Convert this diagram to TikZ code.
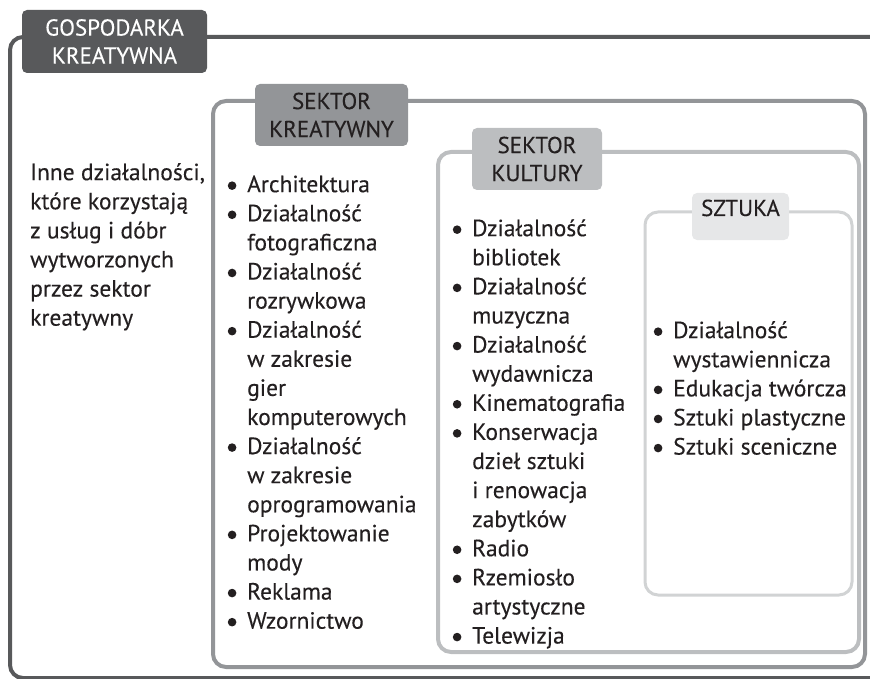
\documentclass[tikz,border=0pt]{standalone}
\usepackage{fontspec}
\setmainfont{PT Sans}[FakeBold=0.25]
\definecolor{ink}{HTML}{231F20}
\definecolor{darkgr}{HTML}{58595B}
\definecolor{midgr}{HTML}{939598}
\definecolor{lightgr}{HTML}{BCBEC0}
\definecolor{palegr}{HTML}{D1D3D4}
\definecolor{palefill}{HTML}{E6E7E8}
% bullet item and continuation line
\newcommand{\itm}[1]{\makebox[19pt][l]{\hspace*{-0.4pt}\raisebox{2.2pt}{\tikz\fill[ink] (0,0) circle (4.3pt);}}#1}
\newcommand{\cnt}[1]{\hspace*{19pt}#1}
\begin{document}
\begin{tikzpicture}[x=1pt,y=-1pt,
  frame/.style={rounded corners=13pt, line width=4pt},
  tag/.style={rounded corners=5pt, inner sep=0pt, align=center, text=ink,
    font=\fontsize{23}{28}\selectfont},
  list/.style={anchor=north west, inner sep=0pt, align=left, text=ink,
    font=\fontsize{23.5}{29.1}\selectfont}]
\useasboundingbox (0,0) rectangle (870,679);
\begin{scope}
\clip (0,0) rectangle (870,679);
% nested sector frames
\draw[frame, darkgr] (10,37) rectangle (890,678);
\draw[frame, midgr] (213,101) rectangle (865,667);
\draw[frame, lightgr] (438,152) rectangle (859,652);
\draw[frame, palegr, line width=3pt] (645,212) rectangle (852,595);
\end{scope}
% frame titles
\node[tag, fill=darkgr, text=white, minimum width=185pt, minimum height=63pt] (gk) at (114.5,41.5) {GOSPODARKA\\KREATYWNA};
\node[tag, fill=midgr, minimum width=153pt, minimum height=62pt] (sk) at (331.5,115) {SEKTOR\\KREATYWNY};
\node[tag, fill=lightgr, minimum width=130pt, minimum height=62pt] (sku) at (537,159) {SEKTOR\\KULTURY};
\node[tag, fill=palefill, minimum width=97pt, text height=23pt, text depth=24pt] (szt) at (740.5,216.5) {SZTUKA};
% lists (first baseline = node top + 20.4)
\node[list] (inne) at (30,159.6) {\strut Inne działalności,\\które korzystają\\z usług i dóbr\\wytworzonych\\przez sektor\\kreatywny};
\node[list] (lsk) at (228,171.6) {\strut\itm{Architektura}\\\itm{Działalność}\\\cnt{fotograficzna}\\\itm{Działalność}\\\cnt{rozrywkowa}\\\itm{Działalność}\\\cnt{w zakresie}\\\cnt{gier}\\\cnt{komputerowych}\\\itm{Działalność}\\\cnt{w zakresie}\\\cnt{oprogramowania}\\\itm{Projektowanie}\\\cnt{mody}\\\itm{Reklama}\\\itm{Wzornictwo}};
\node[list] (lku) at (453,215.6) {\strut\itm{Działalność}\\\cnt{bibliotek}\\\itm{Działalność}\\\cnt{muzyczna}\\\itm{Działalność}\\\cnt{wydawnicza}\\\itm{Kinematografia}\\\itm{Konserwacja}\\\cnt{dzieł sztuki}\\\cnt{i renowacja}\\\cnt{zabytków}\\\itm{Radio}\\\itm{Rzemiosło}\\\cnt{artystyczne}\\\itm{Telewizja}};
\node[list] (lsz) at (654,317.6) {\strut\itm{Działalność}\\\cnt{wystawiennicza}\\\itm{Edukacja twórcza}\\\itm{Sztuki plastyczne}\\\itm{Sztuki sceniczne}};
\end{tikzpicture}
\end{document}
